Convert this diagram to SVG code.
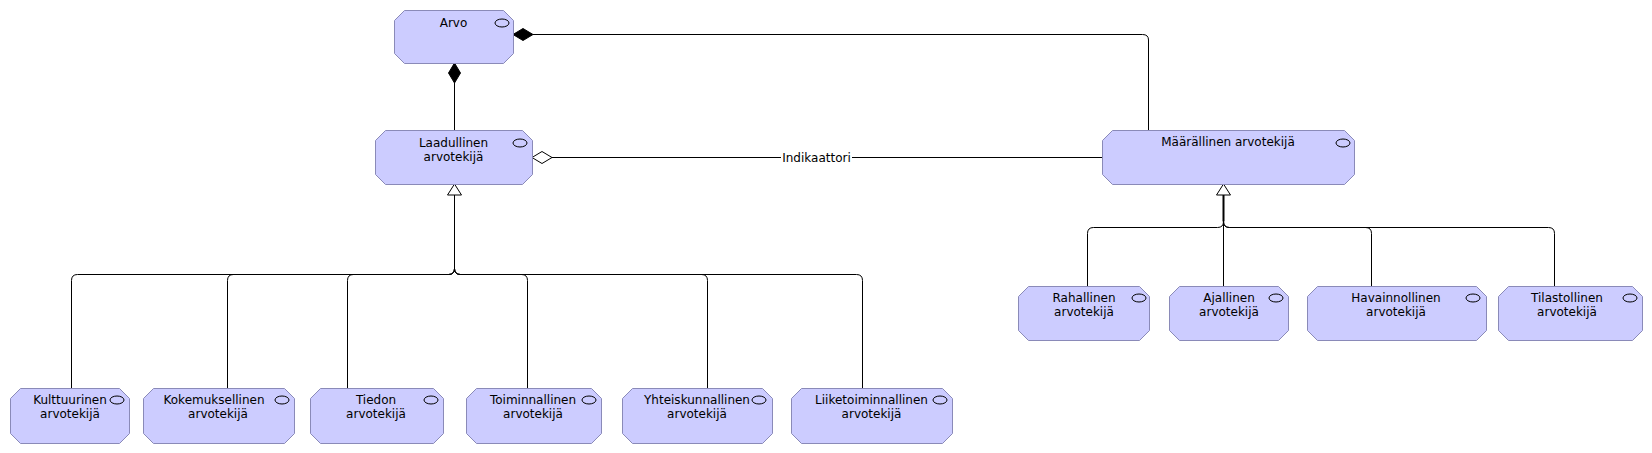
<svg xmlns="http://www.w3.org/2000/svg" width="1652" height="453" viewBox="0 0 1652 453">
<style>
.n{fill:#ccccff;stroke:#8a8ab8;stroke-width:1}
.i{fill:none;stroke:#000;stroke-width:1}
.t{font-family:"DejaVu Sans",sans-serif;font-size:12px;fill:#000;text-anchor:middle}
.c{fill:none;stroke:#000;stroke-width:1}
</style>
<rect width="1652" height="453" fill="#fff"/>
<g id="connectors">
<path class="c" d="M454.5,130 V83"/>
<polygon points="454.5,63 460.5,73 454.5,83 448.5,73" fill="#000" stroke="#000"/>
<path class="c" d="M1148.5,130 V40 Q1148.5,34.5 1142.5,34.5 H533"/>
<polygon points="513,34.5 523,28.5 533,34.5 523,40.5" fill="#000" stroke="#000"/>
<path class="c" d="M552,157.5 H1102"/>
<polygon points="532,157.5 542,151.5 552,157.5 542,163.5" fill="#fff" stroke="#000"/>
<rect x="781" y="149" width="71" height="16" fill="#fff"/>
<text class="t" x="816.5" y="162">Indikaattori</text>
<path class="c" d="M71.5,388 V280.5 Q71.5,274.5 77.5,274.5 H448.5 Q454.5,274.5 454.5,268.5 V195"/>
<path class="c" d="M227.5,388 V280.5 Q227.5,274.5 233.5,274.5 H448.5 Q454.5,274.5 454.5,268.5 V195"/>
<path class="c" d="M347.5,388 V280.5 Q347.5,274.5 353.5,274.5 H448.5 Q454.5,274.5 454.5,268.5 V195"/>
<path class="c" d="M527.5,388 V280.5 Q527.5,274.5 521.5,274.5 H460.5 Q454.5,274.5 454.5,268.5 V195"/>
<path class="c" d="M707.5,388 V280.5 Q707.5,274.5 701.5,274.5 H460.5 Q454.5,274.5 454.5,268.5 V195"/>
<path class="c" d="M862.5,388 V280.5 Q862.5,274.5 856.5,274.5 H460.5 Q454.5,274.5 454.5,268.5 V195"/>
<polygon points="454.5,184 461.5,195 447.5,195" fill="#fff" stroke="#000"/>
<path class="c" d="M1087.5,286 V233.5 Q1087.5,227.5 1093.5,227.5 H1217.5 Q1223.5,227.5 1223.5,221.5 V195"/>
<path class="c" d="M1223.5,286 V195"/>
<path class="c" d="M1371.5,286 V233.5 Q1371.5,227.5 1365.5,227.5 H1229.5 Q1223.5,227.5 1223.5,221.5 V195"/>
<path class="c" d="M1554.5,286 V233.5 Q1554.5,227.5 1548.5,227.5 H1229.5 Q1223.5,227.5 1223.5,221.5 V195"/>
<path d="M1223.5,195 V221.5" stroke="#000" stroke-width="2"/>
<polygon points="1223.5,184 1230.5,195 1216.5,195" fill="#fff" stroke="#000"/>
</g>
<g id="arvo">
<polygon class="n" points="404.5,10.5 503.5,10.5 513.5,20.5 513.5,53.5 503.5,63.5 404.5,63.5 394.5,53.5 394.5,20.5"/>
<ellipse class="i" cx="502" cy="23" rx="7" ry="4"/>
<text class="t" x="453.5" y="27">Arvo</text>
</g>
<g id="laadullinen">
<polygon class="n" points="385.5,130.5 522.5,130.5 532.5,140.5 532.5,174.5 522.5,184.5 385.5,184.5 375.5,174.5 375.5,140.5"/>
<ellipse class="i" cx="520" cy="143" rx="7" ry="4"/>
<text class="t" x="453.5" y="147">Laadullinen</text>
<text class="t" x="453.5" y="161">arvotekijä</text>
</g>
<g id="maarallinen">
<polygon class="n" points="1112.5,130.5 1344.5,130.5 1354.5,140.5 1354.5,174.5 1344.5,184.5 1112.5,184.5 1102.5,174.5 1102.5,140.5"/>
<ellipse class="i" cx="1343" cy="143" rx="7" ry="4"/>
<text class="t" x="1228" y="146">Määrällinen arvotekijä</text>
</g>
<g id="kulttuurinen">
<polygon class="n" points="20.5,388.5 119.5,388.5 129.5,398.5 129.5,433.5 119.5,443.5 20.5,443.5 10.5,433.5 10.5,398.5"/>
<ellipse class="i" cx="117" cy="400" rx="7" ry="4"/>
<text class="t" x="70" y="404">Kulttuurinen</text>
<text class="t" x="70" y="418">arvotekijä</text>
</g>
<g id="kokemuksellinen">
<polygon class="n" points="153.5,388.5 284.5,388.5 294.5,398.5 294.5,433.5 284.5,443.5 153.5,443.5 143.5,433.5 143.5,398.5"/>
<ellipse class="i" cx="282" cy="400" rx="7" ry="4"/>
<text class="t" x="214" y="404">Kokemuksellinen</text>
<text class="t" x="218" y="418">arvotekijä</text>
</g>
<g id="tiedon">
<polygon class="n" points="320.5,388.5 433.5,388.5 443.5,398.5 443.5,433.5 433.5,443.5 320.5,443.5 310.5,433.5 310.5,398.5"/>
<ellipse class="i" cx="431" cy="400" rx="7" ry="4"/>
<text class="t" x="376" y="404">Tiedon</text>
<text class="t" x="376" y="418">arvotekijä</text>
</g>
<g id="toiminnallinen">
<polygon class="n" points="476.5,388.5 591.5,388.5 601.5,398.5 601.5,433.5 591.5,443.5 476.5,443.5 466.5,433.5 466.5,398.5"/>
<ellipse class="i" cx="589" cy="400" rx="7" ry="4"/>
<text class="t" x="533" y="404">Toiminnallinen</text>
<text class="t" x="533" y="418">arvotekijä</text>
</g>
<g id="yhteiskunnallinen">
<polygon class="n" points="632.5,388.5 762.5,388.5 772.5,398.5 772.5,433.5 762.5,443.5 632.5,443.5 622.5,433.5 622.5,398.5"/>
<ellipse class="i" cx="759" cy="400" rx="7" ry="4"/>
<text class="t" x="697" y="404">Yhteiskunnallinen</text>
<text class="t" x="697" y="418">arvotekijä</text>
</g>
<g id="liiketoiminnallinen">
<polygon class="n" points="801.5,388.5 942.5,388.5 952.5,398.5 952.5,433.5 942.5,443.5 801.5,443.5 791.5,433.5 791.5,398.5"/>
<ellipse class="i" cx="940" cy="400" rx="7" ry="4"/>
<text class="t" x="871.5" y="404">Liiketoiminnallinen</text>
<text class="t" x="871.5" y="418">arvotekijä</text>
</g>
<g id="rahallinen">
<polygon class="n" points="1028.5,286.5 1139.5,286.5 1149.5,296.5 1149.5,330.5 1139.5,340.5 1028.5,340.5 1018.5,330.5 1018.5,296.5"/>
<ellipse class="i" cx="1139" cy="298" rx="7" ry="4"/>
<text class="t" x="1084" y="302">Rahallinen</text>
<text class="t" x="1084" y="316">arvotekijä</text>
</g>
<g id="ajallinen">
<polygon class="n" points="1179.5,286.5 1278.5,286.5 1288.5,296.5 1288.5,330.5 1278.5,340.5 1179.5,340.5 1169.5,330.5 1169.5,296.5"/>
<ellipse class="i" cx="1276" cy="298" rx="7" ry="4"/>
<text class="t" x="1229" y="302">Ajallinen</text>
<text class="t" x="1229" y="316">arvotekijä</text>
</g>
<g id="havainnollinen">
<polygon class="n" points="1317.5,286.5 1476.5,286.5 1486.5,296.5 1486.5,330.5 1476.5,340.5 1317.5,340.5 1307.5,330.5 1307.5,296.5"/>
<ellipse class="i" cx="1473" cy="298" rx="7" ry="4"/>
<text class="t" x="1396" y="302">Havainnollinen</text>
<text class="t" x="1396" y="316">arvotekijä</text>
</g>
<g id="tilastollinen">
<polygon class="n" points="1508.5,286.5 1632.5,286.5 1642.5,296.5 1642.5,330.5 1632.5,340.5 1508.5,340.5 1498.5,330.5 1498.5,296.5"/>
<ellipse class="i" cx="1630" cy="298" rx="7" ry="4"/>
<text class="t" x="1567" y="302">Tilastollinen</text>
<text class="t" x="1567" y="316">arvotekijä</text>
</g>
</svg>
